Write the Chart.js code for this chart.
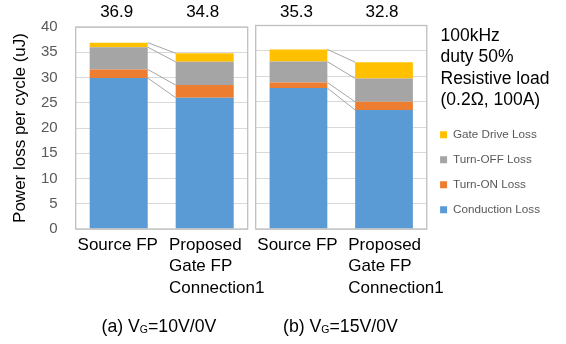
<!DOCTYPE html>
<html>
<head>
<meta charset="utf-8">
<script src="https://cdn.jsdelivr.net/npm/chart.js@4.4.1/dist/chart.umd.min.js"></script>
<style>
  html, body { margin: 0; padding: 0; background: #fff; }
  #wrap { position: relative; width: 566px; height: 344px; overflow: hidden;
          font-family: "Liberation Sans", Arial, sans-serif; }
  canvas { position: absolute; left: 0; top: 0; }
  .note { position: absolute; left: 440.5px; top: 24.5px; font-size: 17.5px; line-height: 21.5px;
          color: #000; white-space: nowrap; }
  .cap { position: absolute; top: 315.5px; font-size: 17.7px; line-height: 20px; color: #000; white-space: nowrap; }
  .cap sub { font-size: 10.5px; position: relative; top: 1px; vertical-align: baseline; line-height: 0; }
</style>
</head>
<body>
<div id="wrap">
  <canvas id="chartA" width="566" height="344"></canvas>
  <canvas id="chartB" width="566" height="344"></canvas>
  <div class="note">100kHz<br>duty 50%<br>Resistive load<br>(0.2Ω, 100A)</div>
  <div class="cap" style="left:101.5px">(a) V<sub>G</sub>=10V/0V</div>
  <div class="cap" style="left:283px">(b) V<sub>G</sub>=15V/0V</div>
</div>
<script>
const categories = ['Source FP', ['Proposed', 'Gate FP', 'Connection1']];
const seriesNames = ['Conduction Loss', 'Turn-ON Loss', 'Turn-OFF Loss', 'Gate Drive Loss'];
const seriesColors = ['#5B9BD5', '#ED7D31', '#A5A5A5', '#FFC000'];

// (a) VG = 10V/0V, energy per cycle in uJ
const conductionA = [29.9, 26.0];
const turnOnA     = [1.7, 2.5];
const turnOffA    = [4.4, 4.6];
const gateDriveA  = [0.9, 1.7];

// (b) VG = 15V/0V, energy per cycle in uJ
const conductionB = [27.7, 23.4];
const turnOnB     = [1.1, 1.6];
const turnOffB    = [4.1, 4.6];
const gateDriveB  = [2.4, 3.2];

const yTickValues = [0, 5, 10, 15, 20, 25, 30, 35, 40];
const yTitle = 'Power loss per cycle (uJ)';

const FONT = '"Liberation Sans", Arial, sans-serif';
Chart.defaults.font.family = FONT;

// Outline around each panel's plot area
const panelFrame = {
  id: 'panelFrame',
  afterDatasetsDraw(chart) {
    const a = chart.chartArea, ctx = chart.ctx;
    ctx.save();
    ctx.strokeStyle = '#BFBFBF';
    ctx.lineWidth = 1.3;
    ctx.strokeRect(a.left, a.top, a.right - a.left, a.bottom - a.top);
    ctx.restore();
  }
};

// Series lines joining the top of each stacked segment between the two bars
const seriesLines = {
  id: 'seriesLines',
  afterDatasetsDraw(chart) {
    const ctx = chart.ctx;
    ctx.save();
    ctx.strokeStyle = '#A6A6A6';
    ctx.lineWidth = 1;
    chart.data.datasets.forEach((ds, i) => {
      const bars = chart.getDatasetMeta(i).data;
      for (let j = 0; j < bars.length - 1; j++) {
        const b0 = bars[j], b1 = bars[j + 1];
        ctx.beginPath();
        ctx.moveTo(b0.x + b0.width / 2, b0.y);
        ctx.lineTo(b1.x - b1.width / 2, b1.y);
        ctx.stroke();
      }
    });
    ctx.restore();
  }
};

// Stack totals printed above the panel
const stackTotals = {
  id: 'stackTotals',
  afterDraw(chart) {
    const ctx = chart.ctx;
    const n = chart.data.labels.length;
    const last = chart.getDatasetMeta(chart.data.datasets.length - 1).data;
    ctx.save();
    ctx.font = '17px ' + FONT;
    ctx.fillStyle = '#000';
    ctx.textAlign = 'center';
    ctx.textBaseline = 'middle';
    for (let j = 0; j < n; j++) {
      const total = chart.data.datasets.reduce((s, ds) => s + ds.data[j], 0);
      ctx.fillText(total.toFixed(1), last[j].x - 2, 12);
    }
    ctx.restore();
  }
};

// Category names under each bar
const categoryLabels = {
  id: 'categoryLabels',
  afterDraw(chart) {
    const ctx = chart.ctx, xs = chart.scales.x;
    ctx.save();
    ctx.font = '17px ' + FONT;
    ctx.fillStyle = '#000';
    ctx.textBaseline = 'middle';
    chart.data.labels.forEach((lab, j) => {
      const cx = xs.getPixelForValue(j);
      const lines = Array.isArray(lab) ? lab : [lab];
      if (lines.length > 1) {
        const w = Math.max(...lines.map(l => ctx.measureText(l).width));
        ctx.textAlign = 'left';
        lines.forEach((l, k) => ctx.fillText(l, cx - w / 2 + 12, 245 + k * 21.7));
      } else {
        ctx.textAlign = 'center';
        ctx.fillText(lines[0], cx - 1, 245);
      }
    });
    ctx.restore();
  }
};

function buildDatasets(series) {
  return series.map((vals, i) => ({
    label: seriesNames[i],
    data: vals,
    backgroundColor: seriesColors[i],
    borderWidth: 0,
    categoryPercentage: 1,
    barPercentage: 0.675
  }));
}

function makePanel(id, series, cfg) {
  return new Chart(document.getElementById(id), {
    type: 'bar',
    data: { labels: categories, datasets: buildDatasets(series) },
    options: {
      responsive: false,
      animation: false,
      devicePixelRatio: 1,
      layout: { padding: cfg.padding },
      plugins: {
        legend: cfg.legend,
        tooltip: { enabled: false }
      },
      scales: {
        x: { stacked: true, display: false },
        y: {
          stacked: true,
          min: 0,
          max: 40,
          afterBuildTicks(s) { s.ticks = yTickValues.map(v => ({ value: v })); },
          afterFit(s) { s.width = cfg.axisWidth; },
          border: { display: false },
          grid: { color: '#D9D9D9', lineWidth: 1, drawTicks: false },
          ticks: {
            display: cfg.showTicks,
            padding: 18,
            color: '#595959',
            font: { size: 15 }
          },
          title: {
            display: cfg.showTicks,
            text: yTitle,
            color: '#000',
            font: { size: 17 },
            padding: { top: 10.5, bottom: 0 }
          }
        }
      }
    },
    plugins: [panelFrame, seriesLines, stackTotals, categoryLabels]
  });
}

makePanel('chartA', [conductionA, turnOnA, turnOffA, gateDriveA], {
  padding: { left: 0, right: 318.3, top: 25.5, bottom: 115 },
  axisWidth: 75.7,
  showTicks: true,
  legend: { display: false }
});

makePanel('chartB', [conductionB, turnOnB, turnOffB, gateDriveB], {
  padding: { left: 0, right: 16, top: 25.5, bottom: 115 },
  axisWidth: 255.7,
  showTicks: false,
  legend: {
    display: true,
    position: 'right',
    align: 'end',
    reverse: true,
    labels: {
      boxWidth: 7,
      boxHeight: 7,
      padding: 13.3,
      color: '#595959',
      font: { size: 11.7 }
    }
  }
});
</script>
</body>
</html>
